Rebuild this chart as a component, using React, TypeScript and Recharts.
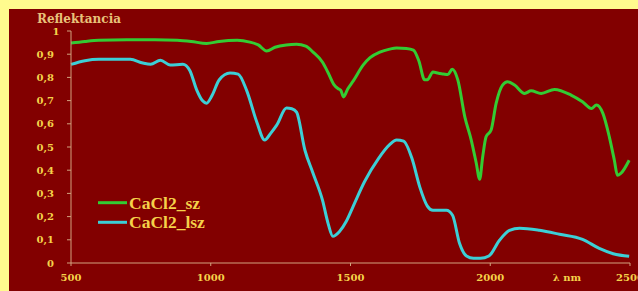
import React from 'react';
import { LineChart, Line, XAxis, YAxis } from 'recharts';

const szWavelengths = [500, 550, 600, 700, 800, 880, 930, 985, 1030, 1095, 1140, 1170, 1200, 1230, 1270, 1307, 1340, 1365, 1400, 1420, 1440, 1455, 1465, 1475, 1490, 1510, 1545, 1570, 1605, 1640, 1665, 1700, 1725, 1745, 1765, 1775, 1795, 1815, 1832, 1848, 1864, 1884, 1909, 1932, 1950, 1962, 1973, 1985, 2003, 2021, 2044, 2062, 2087, 2123, 2146, 2182, 2230, 2289, 2330, 2362, 2380, 2403, 2426, 2444, 2455, 2467, 2497];
const szValues = [0.948, 0.955, 0.96, 0.962, 0.962, 0.96, 0.955, 0.946, 0.955, 0.96, 0.952, 0.94, 0.914, 0.93, 0.94, 0.943, 0.935, 0.91, 0.865, 0.82, 0.77, 0.752, 0.745, 0.716, 0.75, 0.785, 0.853, 0.885, 0.909, 0.922, 0.927, 0.925, 0.918, 0.87, 0.79, 0.79, 0.823, 0.818, 0.815, 0.812, 0.835, 0.789, 0.63, 0.53, 0.43, 0.361, 0.458, 0.544, 0.573, 0.688, 0.767, 0.781, 0.767, 0.731, 0.742, 0.731, 0.748, 0.724, 0.695, 0.666, 0.681, 0.645, 0.544, 0.443, 0.378, 0.386, 0.443];

const lszWavelengths = [500, 550, 600, 712, 757, 785, 820, 855, 900, 925, 950, 970, 985, 1005, 1030, 1069, 1098, 1128, 1165, 1193, 1215, 1236, 1271, 1290, 1307, 1337, 1365, 1400, 1420, 1437, 1460, 1485, 1508, 1550, 1600, 1640, 1665, 1690, 1720, 1748, 1775, 1795, 1843, 1865, 1890, 1915, 1940, 1965, 1995, 2033, 2069, 2105, 2176, 2248, 2330, 2390, 2440, 2497];
const lszValues = [0.856, 0.872, 0.878, 0.878, 0.862, 0.857, 0.874, 0.853, 0.857, 0.83, 0.745, 0.7, 0.689, 0.723, 0.789, 0.819, 0.814, 0.745, 0.607, 0.53, 0.56, 0.594, 0.668, 0.665, 0.65, 0.486, 0.39, 0.27, 0.17, 0.115, 0.135, 0.18, 0.24, 0.35, 0.45, 0.51, 0.53, 0.525, 0.45, 0.327, 0.245, 0.227, 0.227, 0.206, 0.085, 0.03, 0.02, 0.02, 0.03, 0.098, 0.141, 0.15, 0.141, 0.124, 0.102, 0.063, 0.04, 0.029];

const xTicks = [500, 1000, 1500, 2000, 2500];
const yTicks = [0, 0.1, 0.2, 0.3, 0.4, 0.5, 0.6, 0.7, 0.8, 0.9, 1];
const seriesNames = ['CaCl2_sz', 'CaCl2_lsz'];
const yTitle = 'Reflektancia';
const xTitle = 'λ nm';

const szData = szWavelengths.map((x, i) => ({ x, y: szValues[i] }));
const lszData = lszWavelengths.map((x, i) => ({ x, y: lszValues[i] }));

const GREEN = '#33CC33';
const CYAN = '#3CCFD6';
const AXIS = '#D2A27E';
const TICK = '#F5D24A';
const TITLE = '#E8C27A';
const FONT = '"DejaVu Serif", serif';
const LFONT = '"Liberation Serif", serif';

const fmtY = (v: number) => (v === 0 ? '0' : v === 1 ? '1' : v.toFixed(1).replace('.', ','));

const YTick = (props: any) => {
  const { y, payload } = props;
  const v = payload.value as number;
  const isOne = v === 1;
  return (
    <text
      x={isOne ? 56 : 54}
      y={y}
      dy="0.355em"
      textAnchor={isOne ? 'middle' : 'end'}
      fill={TICK}
      fontFamily={FONT}
      fontWeight="bold"
      fontSize={10}
    >
      {fmtY(v)}
    </text>
  );
};

export default function App() {
  return (
    <div style={{ position: 'absolute', left: 0, top: 0, width: 638, height: 291, background: '#FFFB8E', overflow: 'hidden' }}>
      <div style={{ position: 'absolute', left: 9, top: 9, width: 629, height: 282, background: '#820000' }} />
      <div style={{ position: 'absolute', left: 0, top: 0 }}>
        <LineChart width={638} height={291} margin={{ top: 31, right: 8, bottom: 0, left: 0 }}>
          <XAxis
            dataKey="x"
            type="number"
            domain={[500, 2500]}
            ticks={xTicks}
            interval={0}
            allowDuplicatedCategory={false}
            height={28}
            stroke={AXIS}
            tickSize={3}
            tickMargin={8}
            tick={{ fill: TICK, fontFamily: FONT, fontWeight: 'bold', fontSize: 10 }}
            label={{
              content: () => (
                <text x={567} y={280.6} textAnchor="middle" fill={TICK} fontFamily={FONT} fontWeight="bold" fontSize={10}>
                  {xTitle}
                </text>
              ),
            }}
          />
          <YAxis
            type="number"
            domain={[0, 1]}
            ticks={yTicks}
            interval={0}
            width={71}
            stroke={AXIS}
            tickSize={4}
            tick={<YTick />}
            label={{
              content: () => (
                <text x={37} y={23} fill={TITLE} fontFamily={FONT} fontWeight="bold" fontSize={12}>
                  {yTitle}
                </text>
              ),
            }}
          />
          <Line data={szData} dataKey="y" name={seriesNames[0]} type="monotone" stroke={GREEN} strokeWidth={3} dot={false} isAnimationActive={false} />
          <Line data={lszData} dataKey="y" name={seriesNames[1]} type="monotone" stroke={CYAN} strokeWidth={3} dot={false} isAnimationActive={false} />
        </LineChart>
      </div>
      <svg width={130} height={46} style={{ position: 'absolute', left: 95, top: 190 }}>
        <line x1={3} x2={32} y1={12.7} y2={12.7} stroke={GREEN} strokeWidth={3} />
        <text x={34} y={18.5} fill={TICK} fontFamily={LFONT} fontWeight="bold" fontSize={17.5}>
          {seriesNames[0]}
        </text>
        <line x1={3} x2={32} y1={32.3} y2={32.3} stroke={CYAN} strokeWidth={3} />
        <text x={34} y={38.1} fill={TICK} fontFamily={LFONT} fontWeight="bold" fontSize={17.5}>
          {seriesNames[1]}
        </text>
      </svg>
    </div>
  );
}
